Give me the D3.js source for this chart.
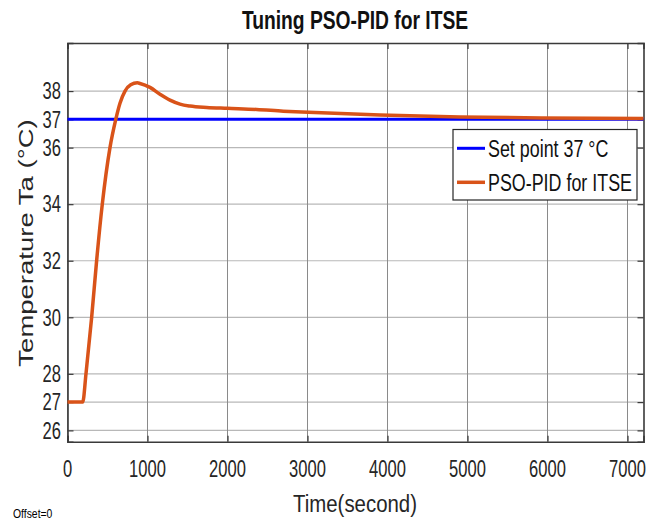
<!DOCTYPE html>
<html><head><meta charset="utf-8">
<script src="https://cdn.jsdelivr.net/npm/d3@7"></script>
<style>html,body{margin:0;padding:0;background:#fff;}svg{display:block;font-family:"Liberation Sans",Arial,sans-serif;}</style>
</head><body>
<svg id="c" width="655" height="522"></svg>
<script>
// ---- data ----
const timeSec = [0, 190, 231, 302, 364, 435, 531, 602, 656, 719, 790, 873, 906, 1031, 1156, 1281, 1406, 1531, 1740, 1998, 2365, 2698, 3010, 3906, 4906, 5925, 7200];
const tempPSO = [27, 27, 28, 30, 32, 34, 36, 36.98, 37.57, 38.0, 38.22, 38.29, 38.27, 38.13, 37.89, 37.68, 37.54, 37.47, 37.42, 37.39, 37.35, 37.29, 37.25, 37.15, 37.08, 37.05, 37.03];
const setPoint = 37;
const xTicks = [0, 1000, 2000, 3000, 4000, 5000, 6000, 7000];
const yTicks = [26, 27, 28, 30, 32, 34, 36, 37, 38];
const seriesNames = ["Set point 37 \u00B0C", "PSO-PID for ITSE"];
const titleText = "Tuning PSO-PID for ITSE";
const xLabel = "Time(second)";
const yLabel = "Temperature Ta (\u00B0C)";

const svg = d3.select("#c");
const L = 67.5, R = 643.5, T = 43, B = 441.7;
const x = d3.scaleLinear().domain([0, 7200]).range([L, R]);
const y = d3.scaleLinear().domain([25.6, 39.7]).range([B, T]);
const SX = 0.72;

function sText(g, px, py, txt, size, anchor, sx, weight) {
  return g.append("text")
    .attr("transform", `translate(${px},${py}) scale(${sx},1)`)
    .attr("text-anchor", anchor).attr("font-size", size)
    .attr("font-weight", weight || "normal").attr("fill", "#262626").text(txt);
}

// grid
const grid = svg.append("g");
grid.selectAll("line.h").data(yTicks).join("line")
  .attr("x1", L).attr("x2", R).attr("y1", d => y(d)).attr("y2", d => y(d))
  .attr("stroke", "#b8b8b8").attr("stroke-width", 1.2);
grid.selectAll("line.v").data(xTicks).join("line")
  .attr("y1", T).attr("y2", B).attr("x1", d => x(d)).attr("x2", d => x(d))
  .attr("stroke", "#8a8a8a").attr("stroke-width", 1);

// axes with inward ticks
const axB = d3.axisBottom(x).tickValues(xTicks).tickSize(-6).tickFormat("");
const axT = d3.axisTop(x).tickValues(xTicks).tickSize(-6).tickFormat("");
const axL = d3.axisLeft(y).tickValues(yTicks).tickSize(-6).tickFormat("");
const axR = d3.axisRight(y).tickValues(yTicks).tickSize(-6).tickFormat("");
[[axB, `translate(0,${B})`], [axT, `translate(0,${T})`], [axL, `translate(${L},0)`], [axR, `translate(${R},0)`]].forEach(([a, tr]) => {
  const g = svg.append("g").attr("transform", tr).call(a);
  g.select(".domain").attr("stroke", "#3a3a3a").attr("stroke-width", 1.6);
  g.selectAll(".tick line").attr("stroke", "#3a3a3a").attr("stroke-width", 1.2);
});

// tick labels
const lab = svg.append("g");
xTicks.forEach(d => sText(lab, x(d), 476.5, String(d), 23, "middle", SX));
yTicks.forEach(d => sText(lab, 61, y(d) + 8.3, String(d), 23, "end", SX));

// set point line
svg.append("line").attr("x1", x(0)).attr("x2", x(7200)).attr("y1", y(setPoint)).attr("y2", y(setPoint))
  .attr("stroke", "#0000ff").attr("stroke-width", 3);

// PSO curve
const pts = timeSec.map((t, i) => [t, tempPSO[i]]);
svg.append("path").datum(pts)
  .attr("d", d3.line().x(d => x(d[0])).y(d => y(d[1])).curve(d3.curveMonotoneX))
  .attr("fill", "none").attr("stroke", "#d95319").attr("stroke-width", 3.5).attr("stroke-linejoin", "round");

// title and labels
sText(svg, 355, 28.5, titleText, 25, "middle", 0.77, "bold").attr("fill", "#111");
sText(svg, 355, 511.5, xLabel, 24, "middle", 0.85);
svg.append("text")
  .attr("transform", `translate(33,243) rotate(-90) scale(1,0.72)`)
  .attr("text-anchor", "middle").attr("font-size", 27.5).attr("fill", "#262626").text(yLabel);
sText(svg, 13, 518, "Offset=0", 13, "start", 0.8).attr("fill", "#000");

// legend
const lg = svg.append("g");
lg.append("rect").attr("x", 453).attr("y", 129.5).attr("width", 184).attr("height", 70.5)
  .attr("fill", "#fff").attr("stroke", "#262626").attr("stroke-width", 1.2);
const legColors = ["#0000ff", "#d95319"];
const legY = [148.3, 182.3];
seriesNames.forEach((n, i) => {
  lg.append("line").attr("x1", 457).attr("x2", 485).attr("y1", legY[i]).attr("y2", legY[i])
    .attr("stroke", legColors[i]).attr("stroke-width", i ? 3.5 : 3);
  sText(lg, 488, legY[i] + 8.5, n, 24, "start", 0.745).attr("fill", "#111");
});
</script>
</body></html>
